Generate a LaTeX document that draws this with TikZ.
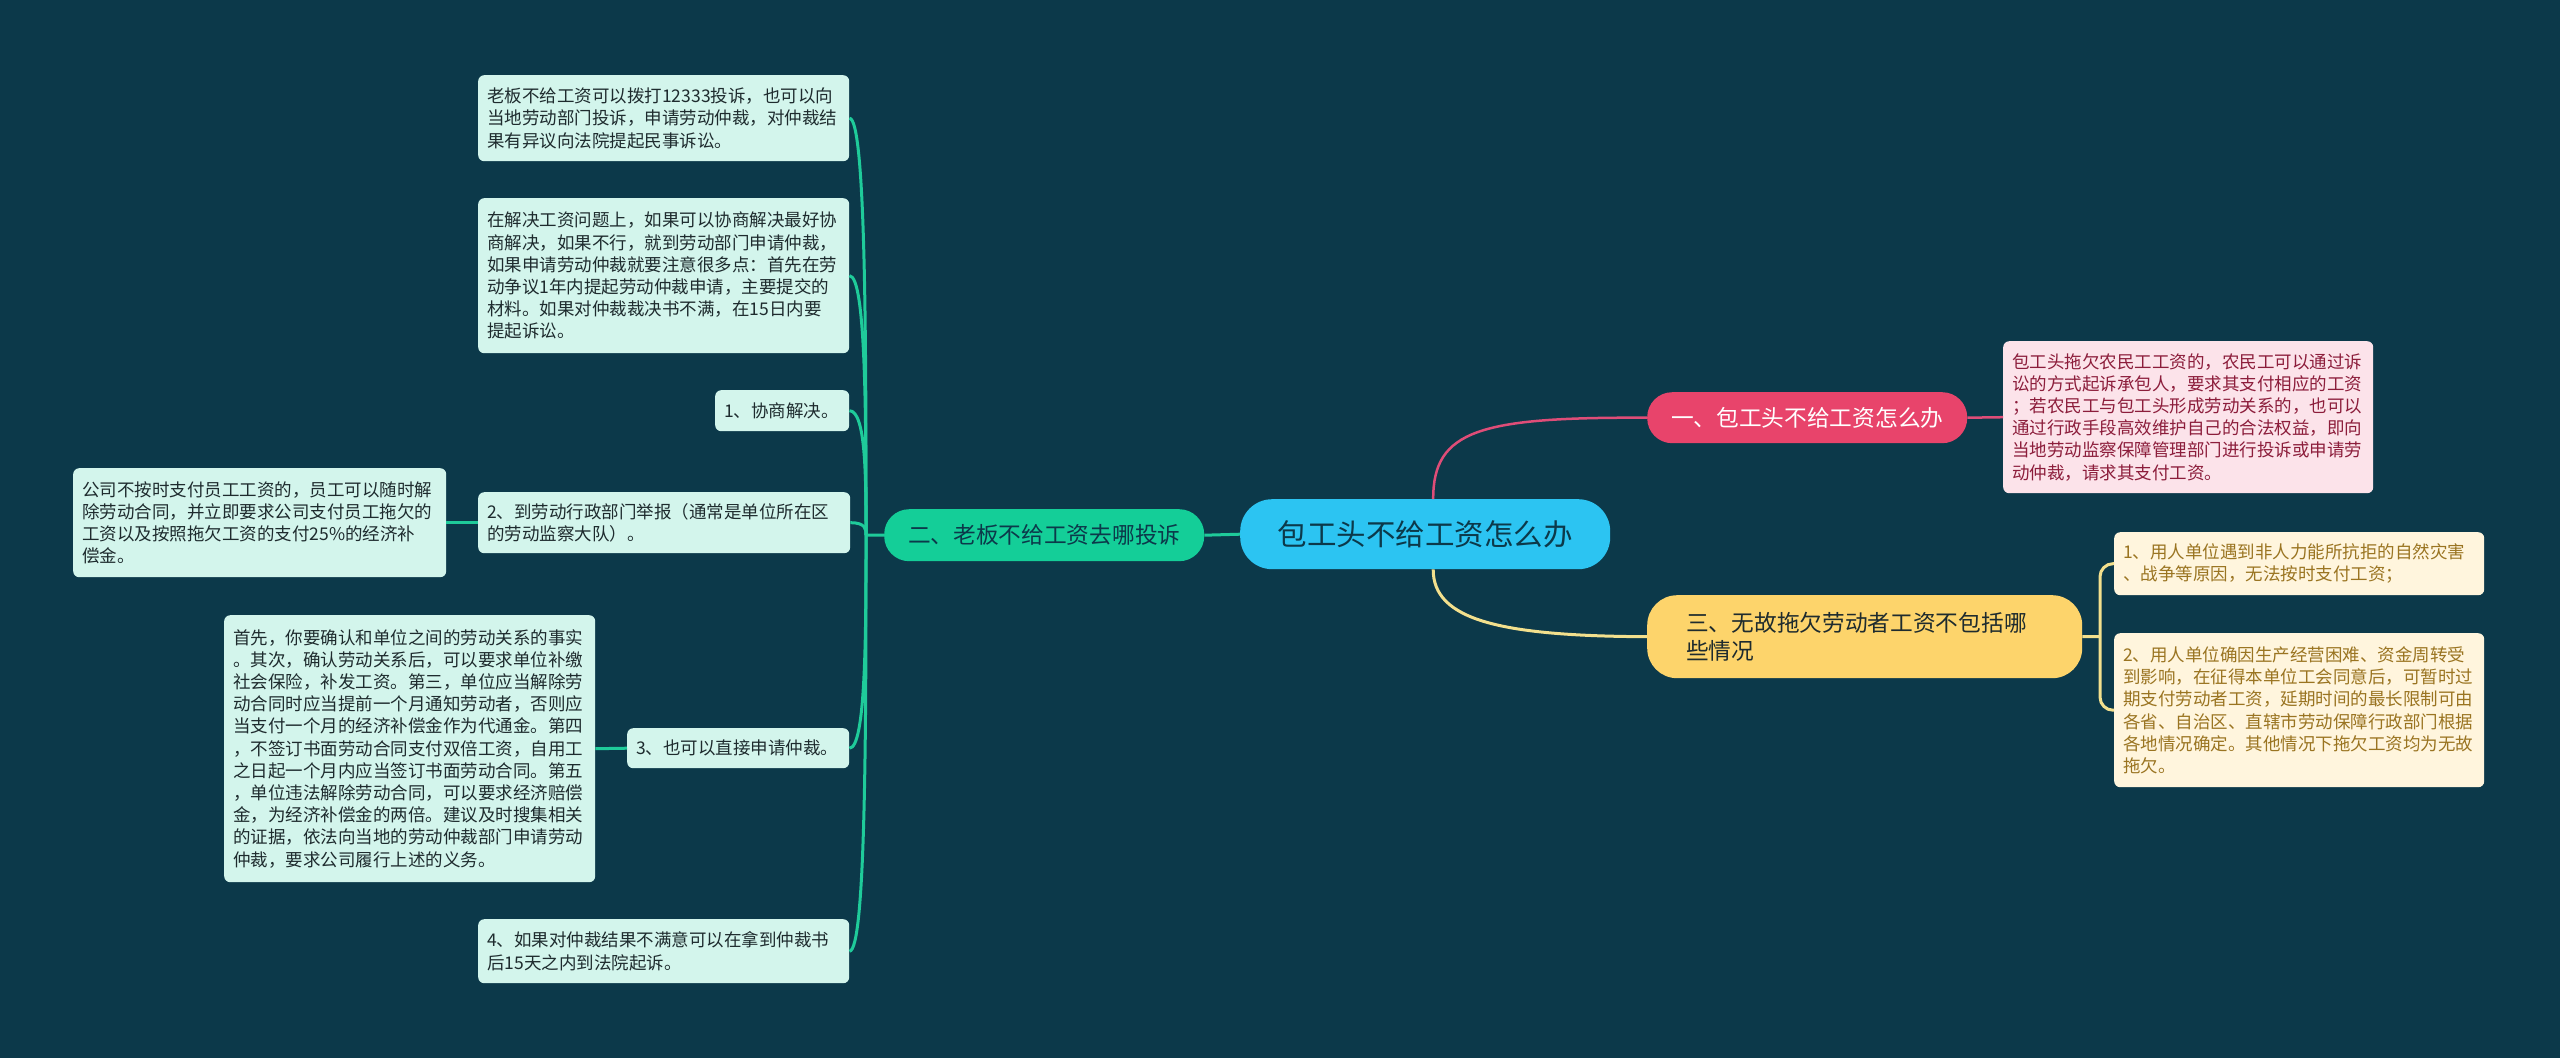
\documentclass[tikz,border=0pt]{standalone}
\usepackage{fontspec}
\setmainfont{Noto Sans CJK SC}
\usetikzlibrary{calc}
\definecolor{bg}{HTML}{0C394A}
\definecolor{cblue}{HTML}{2CC4F2}
\definecolor{cpink}{HTML}{E8446B}
\definecolor{cgreen}{HTML}{14CE98}
\definecolor{cyellow}{HTML}{FDD46B}
\definecolor{mint}{HTML}{D3F5EC}
\definecolor{pinkleaf}{HTML}{FCE3EA}
\definecolor{yelleaf}{HTML}{FFF5DD}
\definecolor{darktxt}{HTML}{1E2B2E}
\definecolor{pinktxt}{HTML}{8C1D3B}
\definecolor{yeltxt}{HTML}{9A7421}
\definecolor{glin}{HTML}{1FCB9A}
\definecolor{plin}{HTML}{DF4D78}
\definecolor{ylin}{HTML}{F3E08D}
\begin{document}
\begin{tikzpicture}[x=1pt,y=-1pt,
  leafbase/.style={anchor=north west, rounded corners=6pt, align=left, inner xsep=9pt, inner ysep=4pt,
    font=\fontsize{17.5}{22.2}\selectfont},
  mintleaf/.style={leafbase, fill=mint, text=darktxt},
  pleaf/.style={leafbase, fill=pinkleaf, text=pinktxt},
  yleaf/.style={leafbase, fill=yelleaf, text=yeltxt},
  branch/.style={anchor=north west, align=center, inner sep=0pt, font=\fontsize{22.7}{28}\selectfont},
  greenline/.style={draw=glin, line width=3pt},
  pinkline/.style={draw=plin, line width=2.5pt},
  yelline/.style={draw=ylin, line width=3pt}]
\useasboundingbox[fill=bg] (0,0) rectangle (2560,1058);

% central
\node[anchor=north west, fill=cblue, rounded corners=32pt, minimum width=370pt, minimum height=70pt,
  text=bg, font=\fontsize{29.5}{34}\selectfont] (C) at (1240,499) {包工头不给工资怎么办};

% main branches
\node[branch, fill=cpink, text=white, rounded corners=25pt, minimum width=320pt, minimum height=51pt] (B1) at (1647,392) {一、包工头不给工资怎么办};
\node[branch, fill=cgreen, text=bg, rounded corners=25pt, minimum width=320pt, minimum height=52pt] (B2) at (884,509) {二、老板不给工资去哪投诉};
\node[anchor=north west, fill=cyellow, text=darktxt, rounded corners=30pt, minimum height=83pt, align=left,
  text width=357pt, inner xsep=39pt, inner ysep=4pt, font=\fontsize{22.7}{28}\selectfont] (B3) at (1647,595)
  {三、无故拖欠劳动者工资不包括哪\\些情况};

% right leaves
\node[pleaf, minimum width=370pt, minimum height=152pt, text width=352pt] (P1) at (2003,341)
  {包工头拖欠农民工工资的，农民工可以通过诉\\讼的方式起诉承包人，要求其支付相应的工资\\；若农民工与包工头形成劳动关系的，也可以\\通过行政手段高效维护自己的合法权益，即向\\当地劳动监察保障管理部门进行投诉或申请劳\\动仲裁，请求其支付工资。};
\node[yleaf, minimum width=370pt, minimum height=63pt, text width=352pt] (Y1) at (2114,532)
  {1、用人单位遇到非人力能所抗拒的自然灾害\\、战争等原因，无法按时支付工资；};
\node[yleaf, minimum width=370pt, minimum height=154pt, text width=352pt] (Y2) at (2114,633)
  {2、用人单位确因生产经营困难、资金周转受\\到影响，在征得本单位工会同意后，可暂时过\\期支付劳动者工资，延期时间的最长限制可由\\各省、自治区、直辖市劳动保障行政部门根据\\各地情况确定。其他情况下拖欠工资均为无故\\拖欠。};

% left leaves
\node[mintleaf, minimum width=371pt, minimum height=86pt, text width=353pt] (L1) at (478,75)
  {老板不给工资可以拨打12333投诉，也可以向\\当地劳动部门投诉，申请劳动仲裁，对仲裁结\\果有异议向法院提起民事诉讼。};
\node[mintleaf, minimum width=371pt, minimum height=155pt, text width=353pt] (L2) at (478,198)
  {在解决工资问题上，如果可以协商解决最好协\\商解决，如果不行，就到劳动部门申请仲裁，\\如果申请劳动仲裁就要注意很多点：首先在劳\\动争议1年内提起劳动仲裁申请，主要提交的\\材料。如果对仲裁裁决书不满，在15日内要\\提起诉讼。};
\node[mintleaf, minimum width=134pt, minimum height=41pt, text width=116pt] (L3) at (715,390)
  {1、协商解决。};
\node[mintleaf, minimum width=372pt, minimum height=61pt, text width=354pt] (L4) at (478,492)
  {2、到劳动行政部门举报（通常是单位所在区\\的劳动监察大队）。};
\node[mintleaf, minimum width=373pt, minimum height=109pt, text width=355pt] (L4a) at (73,468)
  {公司不按时支付员工工资的，员工可以随时解\\除劳动合同，并立即要求公司支付员工拖欠的\\工资以及按照拖欠工资的支付25\%的经济补\\偿金。};
\node[mintleaf, minimum width=222pt, minimum height=40pt, text width=204pt] (L5) at (627,728)
  {3、也可以直接申请仲裁。};
\node[mintleaf, minimum width=371pt, minimum height=267pt, text width=353pt] (L5a) at (224,615)
  {首先，你要确认和单位之间的劳动关系的事实\\。其次，确认劳动关系后，可以要求单位补缴\\社会保险，补发工资。第三，单位应当解除劳\\动合同时应当提前一个月通知劳动者，否则应\\当支付一个月的经济补偿金作为代通金。第四\\，不签订书面劳动合同支付双倍工资，自用工\\之日起一个月内应当签订书面劳动合同。第五\\，单位违法解除劳动合同，可以要求经济赔偿\\金，为经济补偿金的两倍。建议及时搜集相关\\的证据，依法向当地的劳动仲裁部门申请劳动\\仲裁，要求公司履行上述的义务。};
\node[mintleaf, minimum width=371pt, minimum height=64pt, text width=353pt] (L6) at (478,919)
  {4、如果对仲裁结果不满意可以在拿到仲裁书\\后15天之内到法院起诉。};

% connectors
\coordinate (jL) at (866,535);
\coordinate (jR) at (2100,636.5);
\draw[pinkline] ([xshift=8pt]C.north) .. controls (1433,430) and (1480,417) .. (B1.west);
\draw[pinkline] (B1.east) -- (P1.west);
\draw[yelline] ([xshift=8pt]C.south) .. controls (1433,620) and (1500,636) .. (B3.west);
\draw[yelline] (B3.east) -- (jR);
\draw[yelline, rounded corners=13pt] (Y1.west) -| (jR) |- (Y2.west);
\draw[greenline] (C.west) -- (B2.east);
\draw[greenline] (B2.west) -- (jL);
\foreach \n in {L1,L2,L3,L4,L5,L6}
  \draw[greenline] (jL) .. controls ($(jL)!0.45!(jL|-\n.east)$) and (jL|-\n.east) .. (\n.east);
\draw[greenline] (L4.west) -- (L4a.east);
\draw[greenline] (L5.west) -- (L5a.east);
\end{tikzpicture}
\end{document}
